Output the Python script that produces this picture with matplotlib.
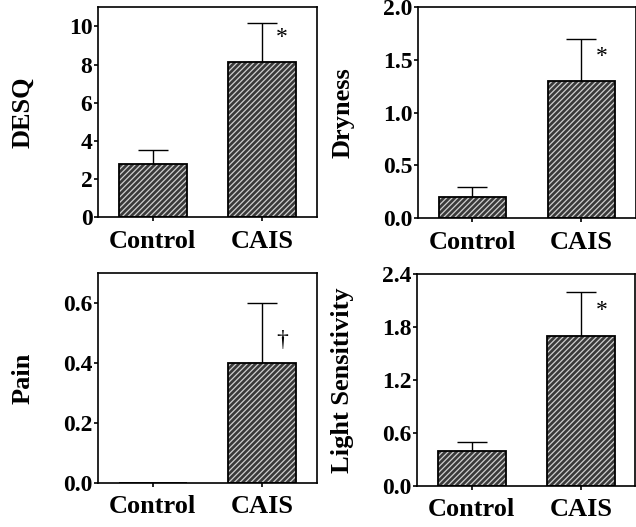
import matplotlib
matplotlib.use("Agg")
import matplotlib.pyplot as plt

plt.rcParams["font.family"] = ["Liberation Serif", "DejaVu Serif"]
plt.rcParams["font.weight"] = "bold"
plt.rcParams["hatch.linewidth"] = 0.9

groups = ["Control", "CAIS"]

desq_mean = [2.8, 8.15]
desq_err = [0.7, 2.05]

dryness_mean = [0.2, 1.3]
dryness_err = [0.1, 0.4]

pain_mean = [0.0, 0.4]
pain_err = [0.0, 0.2]

light_mean = [0.4, 1.7]
light_err = [0.1, 0.5]

panels = [
    # label, means, errs, ylim, yticks, ytick labels, mark, mark pos, axes rect
    ("DESQ", desq_mean, desq_err, 11, [0, 2, 4, 6, 8, 10],
     ["0", "2", "4", "6", "8", "10"], "*", (1.18, 9.4),
     [0.154, 0.588, 0.344, 0.398]),
    ("Dryness", dryness_mean, dryness_err, 2.0, [0, 0.5, 1.0, 1.5, 2.0],
     ["0.0", "0.5", "1.0", "1.5", "2.0"], "*", (1.19, 1.53),
     [0.657, 0.586, 0.343, 0.400]),
    ("Pain", pain_mean, pain_err, 0.7, [0, 0.2, 0.4, 0.6],
     ["0.0", "0.2", "0.4", "0.6"], "\u2020", (1.18, 0.477),
     [0.154, 0.0835, 0.344, 0.398]),
    ("Light Sensitivity", light_mean, light_err, 2.4, [0, 0.6, 1.2, 1.8, 2.4],
     ["0.0", "0.6", "1.2", "1.8", "2.4"], "*", (1.19, 1.99),
     [0.656, 0.078, 0.343, 0.402]),
]

fig = plt.figure(figsize=(6.36, 5.27), dpi=100)

for label, means, errs, ytop, yticks, ylabels, mark, mpos, rect in panels:
    ax = fig.add_axes(rect)
    x = list(range(len(groups)))
    # hatched fill: dark face, light diagonal lines
    ax.bar(x, means, width=0.62, color="#3a3a3a", edgecolor="#d0d0d0",
           hatch="//////", linewidth=0, zorder=2)
    ax.bar(x, means, width=0.62, fill=False, edgecolor="black",
           linewidth=1.3, zorder=3)
    for xi, m, e in zip(x, means, errs):
        if e > 0:
            ax.errorbar(xi, m, yerr=[[0], [e]], fmt="none", ecolor="black",
                        elinewidth=1.0, capsize=11, capthick=1.0, zorder=1)
    ax.text(mpos[0], mpos[1], mark, ha="center", va="center", fontsize=17,
            fontweight="normal")
    ax.set_xlim(-0.5, 1.5)
    ax.set_ylim(0, ytop)
    ax.set_yticks(yticks)
    ax.set_yticklabels(ylabels)
    ax.set_xticks(x)
    ax.set_xticklabels(groups)
    ax.tick_params(axis="y", length=3, width=1.2, pad=1, labelsize=17)
    ax.tick_params(axis="x", length=3, width=1.2, direction="out", pad=6,
                   labelsize=19)
    for t in ax.get_xticklabels() + ax.get_yticklabels():
        t.set_fontweight("bold")
    ax.set_ylabel(label, fontsize=19, fontweight="bold")
    ax.yaxis.set_label_coords(-0.29, 0.5)
    for s in ax.spines.values():
        s.set_linewidth(1.2)

plt.savefig("out.png", dpi=100)
plt.close()
